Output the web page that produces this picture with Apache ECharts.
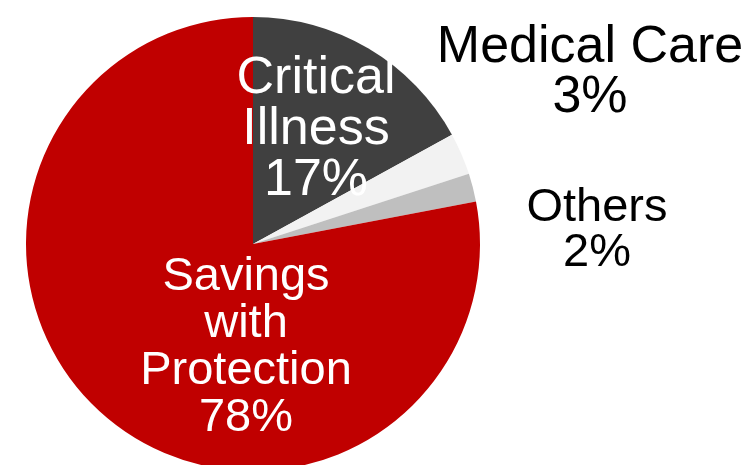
<!DOCTYPE html>
<html>
<head>
<meta charset="utf-8">
<script src="https://cdn.jsdelivr.net/npm/echarts@6/dist/echarts.min.js"></script>
<style>
  html, body { margin: 0; padding: 0; background: #ffffff; }
  #chart { width: 754px; height: 465px; }
</style>
</head>
<body>
<div id="chart"></div>
<script>
// Product mix shares (percent)
var categories = ['Critical\nIllness', 'Medical Care', 'Others', 'Savings\nwith\nProtection'];
var shares = [17, 3, 2, 78];
var sliceColors = ['#404040', '#f2f2f2', '#bfbfbf', '#c00000'];

// Label styling and placement per slice
var labelStyles = [
  { color: '#ffffff', fontSize: 52, lineHeight: 51, x: 316, y: 130 },
  { color: '#000000', fontSize: 52, lineHeight: 50, x: 590, y: 73 },
  { color: '#000000', fontSize: 47, lineHeight: 45, x: 597, y: 231 },
  { color: '#ffffff', fontSize: 47, lineHeight: 47, x: 246, y: 348 }
];

var chart = echarts.init(document.getElementById('chart'), null, { renderer: 'canvas' });

var seriesData = categories.map(function (name, i) {
  return {
    name: name,
    value: shares[i],
    itemStyle: { color: sliceColors[i] },
    label: {
      color: labelStyles[i].color,
      fontSize: labelStyles[i].fontSize,
      lineHeight: labelStyles[i].lineHeight
    }
  };
});

chart.setOption({
  animation: false,
  backgroundColor: '#ffffff',
  series: [{
    type: 'pie',
    center: [253, 244],
    radius: [0, 227],
    startAngle: 90,
    clockwise: true,
    avoidLabelOverlap: false,
    silent: true,
    itemStyle: { borderWidth: 0 },
    label: {
      show: true,
      position: 'inside',
      formatter: '{b}\n{c}%',
      fontFamily: '"Liberation Sans", Arial, sans-serif',
      align: 'center',
      verticalAlign: 'middle',
      textBorderWidth: 0
    },
    labelLine: { show: false },
    labelLayout: function (params) {
      var s = labelStyles[params.dataIndex];
      return { x: s.x, y: s.y, align: 'center', verticalAlign: 'middle' };
    },
    data: seriesData
  }]
});
</script>
</body>
</html>
